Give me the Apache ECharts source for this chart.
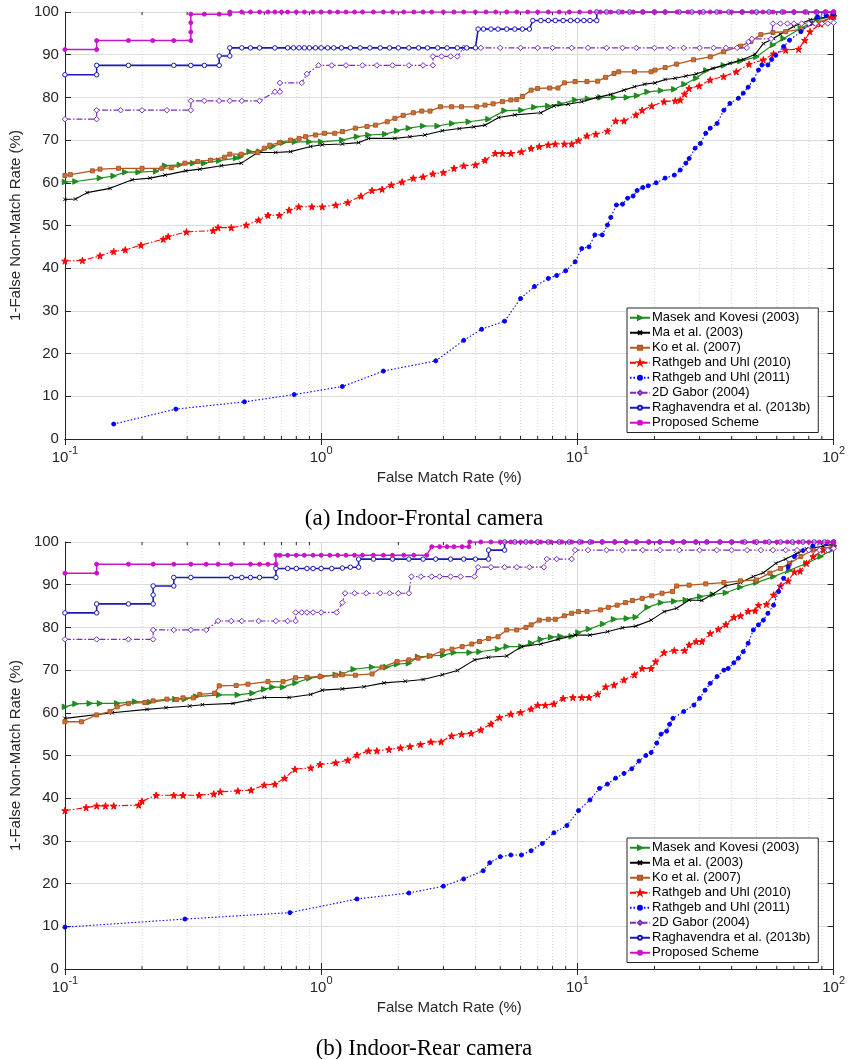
<!DOCTYPE html>
<html>
<head>
<meta charset="utf-8">
<script src="https://cdn.jsdelivr.net/npm/echarts@6/dist/echarts.min.js"></script>
<style>
  html, body { margin: 0; padding: 0; background: #fff; }
  #chart { width: 848px; height: 1059px; }
</style>
</head>
<body>
<div id="chart"></div>
<script>
// legend names, same order in both panels
const names = ['Masek and Kovesi (2003)', 'Ma et al. (2003)', 'Ko et al. (2007)', 'Rathgeb and Uhl (2010)',
  'Rathgeb and Uhl (2011)', '2D Gabor (2004)', 'Raghavendra et al. (2013b)', 'Proposed Scheme'];
const yTicks = [0, 10, 20, 30, 40, 50, 60, 70, 80, 90, 100];
const minorTicks = [0.2, 0.3, 0.4, 0.5, 0.6, 0.7, 0.8, 0.9, 2, 3, 4, 5, 6, 7, 8, 9, 20, 30, 40, 50, 60, 70, 80, 90];

// (a) Indoor-Frontal camera : [FMR %, 1-FNMR %]
const masekA = [[0.1,60.2],[0.11,60.3],[0.137,61.1],[0.155,61.6],[0.172,62.5],[0.194,62.5],[0.227,62.7],[0.246,64.0],[0.281,64.2],[0.317,64.6],[0.35,64.6],[0.40,65.2],[0.466,65.8],[0.485,66.1],[0.526,67.3],[0.575,67.3],[0.646,68.5],[0.71,69.4],[0.79,69.6],[0.90,69.6],[1.0,69.6],[1.21,70.0],[1.38,70.8],[1.53,71.2],[1.78,71.4],[1.98,72.2],[2.2,72.8],[2.5,73.3],[2.85,73.3],[3.25,73.9],[3.77,74.3],[4.5,74.9],[5.2,76.9],[6.05,77.0],[6.8,77.7],[7.7,78.0],[8.6,78.5],[9.8,79.4],[11.0,79.7],[12.3,80.0],[13.9,80.0],[15.6,80.0],[17.1,80.4],[18.8,81.3],[21.2,81.6],[23.9,81.9],[26.2,83.1],[29.1,84.5],[31.9,86.3],[37.3,87.5],[43.3,88.5],[50,89.5],[58,92.3],[63.8,93.8],[74.5,96.2],[86.5,98.2],[100,99.0]];
const maA = [[0.1,56.1],[0.11,56.2],[0.122,57.7],[0.15,58.7],[0.183,60.7],[0.215,61.1],[0.246,61.8],[0.296,62.8],[0.336,63.2],[0.408,64.0],[0.488,64.6],[0.566,67.1],[0.665,67.1],[0.76,67.3],[0.91,68.5],[1.01,68.9],[1.21,69.1],[1.40,69.4],[1.53,70.4],[1.94,70.4],[2.22,70.8],[2.54,71.2],[2.97,72.2],[3.46,72.7],[3.94,73.1],[4.36,73.5],[4.93,75.3],[5.7,75.9],[7.2,76.4],[8.1,78.0],[9.2,78.4],[10.4,79.0],[12.0,80.0],[13.5,80.7],[15.2,81.7],[16.7,82.5],[18.3,83.1],[20.1,83.4],[22.0,84.2],[24.1,84.5],[26.5,85.0],[29.1,85.5],[33.8,86.8],[39.4,88.0],[44.4,88.9],[49.4,90.1],[53.2,92.6],[58.3,93.8],[62,94.8],[69.7,96.6],[81,98.2],[100,99.1]];
const koA = [[0.1,61.7],[0.105,61.9],[0.128,62.8],[0.137,63.2],[0.162,63.4],[0.2,63.4],[0.239,63.4],[0.26,63.5],[0.294,64.6],[0.33,65.0],[0.37,65.3],[0.42,66.0],[0.44,66.7],[0.488,66.7],[0.566,67.1],[0.6,68.1],[0.63,68.8],[0.687,69.4],[0.76,70.0],[0.82,70.4],[0.87,70.8],[0.95,71.2],[1.03,71.6],[1.13,71.6],[1.21,72.0],[1.36,72.8],[1.51,73.2],[1.63,73.5],[1.81,74.3],[1.94,75.1],[2.09,75.8],[2.29,76.4],[2.47,76.8],[2.66,76.8],[2.92,77.8],[3.23,77.8],[3.53,77.8],[4.05,77.8],[4.36,78.2],[4.69,78.5],[5.1,79.0],[5.5,79.4],[5.8,79.5],[6.1,80.2],[6.6,81.7],[7.0,82.1],[7.8,82.2],[8.4,82.2],[8.9,83.4],[9.8,83.7],[10.9,83.7],[12.0,83.8],[12.9,84.7],[13.9,85.6],[14.5,86.0],[16.7,86.0],[19.4,86.0],[20.1,86.4],[22,87.0],[24.4,87.8],[28.4,88.8],[33,89.5],[37.2,90.7],[43.3,92.0],[47.6,93.1],[52,94.7],[58,95.2],[65,95.4],[75,96.0],[85,97.4],[100,98.8]];
const rathgeb10A = [[0.1,41.7],[0.117,41.8],[0.137,42.9],[0.155,43.9],[0.172,44.3],[0.198,45.4],[0.242,46.8],[0.253,47.4],[0.298,48.5],[0.379,48.8],[0.396,49.5],[0.446,49.5],[0.51,50.1],[0.57,51.3],[0.62,52.4],[0.687,52.4],[0.75,53.6],[0.817,54.4],[0.92,54.4],[1.01,54.4],[1.14,54.8],[1.27,55.4],[1.43,56.9],[1.58,58.2],[1.73,58.5],[1.88,59.5],[2.07,60.2],[2.29,61.1],[2.5,61.4],[2.73,62.1],[3.0,62.4],[3.3,63.4],[3.6,64.0],[4.0,64.2],[4.36,65.3],[4.78,66.9],[5.1,66.9],[5.5,66.9],[6.05,67.3],[6.6,68.1],[7.1,68.5],[7.7,68.9],[8.2,69.1],[8.9,69.1],[9.5,69.1],[10.1,69.9],[10.9,71.0],[11.8,71.4],[13.1,72.1],[14.1,74.5],[15.2,74.5],[16.9,75.9],[17.9,77.0],[19.5,78.0],[21.8,79.0],[24.1,79.2],[25.2,79.4],[26.2,80.8],[27.3,82.1],[29.9,82.7],[33,84.1],[37.2,84.9],[41.7,86.0],[46.8,87.8],[53.2,88.8],[58.3,90.2],[65,91.1],[73,91.3],[77.2,93.4],[80.9,95.4],[89,97.2],[97.8,98.9],[100,99.0]];
const rathgeb11A = [[0.155,3.5],[0.271,7.0],[0.502,8.7],[0.785,10.4],[1.21,12.3],[1.75,15.9],[2.8,18.3],[3.6,23.1],[4.23,25.7],[5.2,27.6],[6.0,32.9],[6.8,35.7],[7.7,37.6],[8.3,38.3],[9.0,39.4],[9.8,41.5],[10.4,44.6],[11.1,45.0],[11.7,47.8],[12.5,47.8],[13.1,50.1],[13.5,51.9],[14.2,54.8],[15.0,55.0],[15.7,56.4],[16.5,56.9],[17.1,58.2],[18.0,58.9],[18.9,59.3],[20.3,60.0],[22,61.1],[23.9,61.8],[25.2,63.0],[26.5,64.6],[27.3,65.7],[28.8,68.1],[30.2,69.2],[31.7,71.6],[33,72.8],[35.1,73.9],[37.3,77.0],[39.4,78.6],[42.5,79.8],[44.4,81.0],[46.4,82.4],[48.6,84.1],[50.9,86.4],[52.5,87.6],[55.4,87.6],[57.3,88.9],[59.5,89.9],[63.8,91.9],[67.3,93.4],[74.5,95.4],[81,97.3],[86.5,98.9],[93.5,99.2],[100,99.5]];
const gaborA = [[0.1,74.9],[0.133,74.9],[0.133,77.0],[0.165,77.0],[0.2,77.0],[0.25,77.0],[0.31,77.0],[0.31,79.2],[0.35,79.2],[0.4,79.2],[0.44,79.2],[0.49,79.2],[0.575,79.2],[0.66,81.3],[0.69,81.3],[0.69,83.4],[0.84,83.4],[0.88,85.5],[0.977,87.5],[1.1,87.5],[1.25,87.5],[1.45,87.5],[1.65,87.5],[1.9,87.5],[2.2,87.5],[2.5,87.5],[2.73,87.5],[2.73,89.6],[2.95,89.6],[3.2,89.6],[3.4,89.6],[3.6,91.6],[4.2,91.6],[5,91.6],[6,91.6],[7,91.6],[8,91.6],[9.5,91.6],[11,91.6],[13,91.6],[15,91.6],[17,91.6],[20,91.6],[23,91.6],[26,91.6],[30,91.6],[34,91.6],[38,91.6],[42,91.6],[45.8,91.6],[46.5,93.0],[48,93.7],[57,93.7],[58,97.3],[62,97.3],[66,97.3],[70,97.3],[75,97.3],[80,97.3],[85,97.3],[90,97.3],[95,97.3],[100,97.5]];
const raghA = [[0.1,85.3],[0.133,85.3],[0.133,87.5],[0.177,87.5],[0.266,87.5],[0.31,87.5],[0.35,87.5],[0.4,87.5],[0.4,89.7],[0.44,89.7],[0.44,91.6],[0.49,91.6],[0.53,91.6],[0.575,91.6],[0.66,91.6],[0.74,91.6],[0.78,91.6],[0.82,91.6],[0.86,91.6],[0.9,91.6],[0.95,91.6],[1.0,91.6],[1.06,91.6],[1.12,91.6],[1.2,91.6],[1.3,91.6],[1.42,91.6],[1.55,91.6],[1.7,91.6],[1.85,91.6],[2.0,91.6],[2.2,91.6],[2.4,91.6],[2.6,91.6],[2.85,91.6],[3.1,91.6],[3.4,91.6],[3.7,91.6],[4.0,91.6],[4.1,96.0],[4.3,96.0],[4.6,96.0],[4.9,96.0],[5.3,96.0],[5.7,96.0],[6.1,96.0],[6.5,96.0],[6.7,98.0],[7.2,98.0],[7.7,98.0],[8.2,98.0],[8.8,98.0],[9.4,98.0],[10,98.0],[10.6,98.0],[11.2,98.0],[11.9,98.0],[11.9,100],[13,100],[14.5,100],[16,100],[18,100],[20,100],[22,100],[25,100],[28,100],[31,100],[35,100],[39,100],[44,100],[50,100],[56,100],[63,100],[70,100],[78,100],[86,100],[93,100],[100,100]];
const proposedA = [[0.1,91.2],[0.133,91.2],[0.133,93.3],[0.177,93.3],[0.22,93.3],[0.266,93.3],[0.31,93.3],[0.31,95.3],[0.31,97.5],[0.31,99.5],[0.35,99.5],[0.4,99.5],[0.44,99.5],[0.44,100],[0.49,100],[0.53,100],[0.575,100],[0.62,100],[0.66,100],[0.7,100],[0.74,100],[0.8,100],[0.86,100],[0.93,100],[1.0,100],[1.08,100],[1.16,100],[1.25,100],[1.35,100],[1.45,100],[1.6,100],[1.75,100],[1.9,100],[2.1,100],[2.3,100],[2.5,100],[2.7,100],[3.0,100],[3.3,100],[3.6,100],[4.0,100],[4.4,100],[4.8,100],[5.3,100],[5.8,100],[6.4,100],[7.0,100],[7.7,100],[8.5,100],[9.3,100],[10.2,100],[11.2,100],[12.3,100],[13.5,100],[15,100],[16.5,100],[18,100],[20,100],[22,100],[24.5,100],[27,100],[30,100],[33,100],[36,100],[40,100],[44,100],[48,100],[53,100],[58,100],[64,100],[70,100],[77,100],[85,100],[93,100],[100,100]];

// (b) Indoor-Rear camera
const masekB = [[0.1,61.4],[0.11,62.1],[0.125,62.2],[0.137,62.2],[0.16,62.2],[0.188,62.6],[0.215,62.5],[0.27,63.2],[0.294,63.2],[0.326,63.8],[0.40,64.2],[0.473,64.2],[0.54,64.6],[0.6,65.5],[0.646,66.0],[0.71,66.0],[0.795,67.0],[0.90,68.1],[1.01,68.5],[1.14,68.9],[1.21,69.1],[1.34,70.2],[1.58,70.7],[1.8,70.7],[1.98,71.4],[2.2,71.6],[2.39,73.1],[2.66,73.3],[3.0,73.5],[3.3,74.1],[3.8,74.1],[4.15,74.3],[4.9,74.9],[5.3,75.5],[6.05,75.5],[6.6,76.3],[7.2,77.2],[7.9,77.7],[8.6,77.9],[9.5,77.9],[10.1,78.8],[11.1,79.6],[12.6,80.8],[13.9,81.9],[15.6,82.1],[16.9,82.4],[18.8,84.7],[21.2,85.8],[23.9,86.1],[26.5,86.4],[30.2,87.2],[33.8,87.7],[38,88.1],[43.3,89.4],[50,90.5],[58.3,91.9],[67.3,93.4],[78.4,95.0],[89,96.6],[98,98.1],[100,99.0]];
const maB = [[0.1,58.7],[0.153,60.0],[0.209,60.8],[0.248,61.2],[0.307,61.6],[0.344,61.9],[0.453,62.2],[0.526,63.0],[0.6,63.6],[0.75,63.6],[0.91,64.3],[1.01,65.3],[1.21,65.6],[1.47,66.1],[1.76,67.0],[2.13,67.4],[2.5,67.8],[2.97,68.9],[3.4,69.9],[3.97,72.4],[4.5,73.0],[5.3,73.3],[6.05,75.5],[7.2,76.1],[8.4,77.2],[9.8,78.2],[11.2,78.2],[13.1,79.0],[15,79.9],[16.9,80.3],[19.4,81.7],[21.8,83.7],[24.4,84.5],[27.3,86.4],[30.6,86.3],[33.8,87.8],[37.8,89.7],[43.3,90.5],[48.6,91.9],[53.2,92.8],[59.5,95.0],[65,96.0],[71.3,97.2],[78.4,98.4],[91,99.0],[100,99.5]];
const koB = [[0.1,57.9],[0.116,57.9],[0.133,59.5],[0.15,60.3],[0.16,61.4],[0.177,62.2],[0.205,62.4],[0.221,62.8],[0.25,63.2],[0.273,63.1],[0.289,63.5],[0.317,63.5],[0.336,64.3],[0.384,64.6],[0.40,66.3],[0.466,66.4],[0.518,66.7],[0.62,67.3],[0.71,67.3],[0.795,68.2],[0.88,68.3],[0.99,68.5],[1.14,68.8],[1.21,68.9],[1.36,68.8],[1.58,69.1],[1.73,70.7],[1.98,72.0],[2.2,72.4],[2.39,72.8],[2.66,73.3],[2.97,74.5],[3.24,74.9],[3.55,75.5],[3.87,76.1],[4.15,76.7],[4.5,77.4],[4.9,77.8],[5.3,79.4],[5.8,79.4],[6.3,80.0],[6.6,80.6],[7.1,81.7],[7.7,81.9],[8.2,81.9],[8.9,82.7],[9.5,83.3],[10.1,83.7],[10.9,83.7],[12.3,84.1],[13.2,84.7],[14.3,85.2],[15.4,85.8],[16.4,86.3],[17.9,86.8],[19.5,87.4],[21.4,88.0],[23.5,88.4],[24.4,89.7],[27.3,89.9],[31.7,90.2],[37.3,90.5],[43.3,90.9],[50,91.1],[56.4,92.7],[62,93.8],[67.3,95.0],[74.5,96.6],[83.2,98.1],[100,99.0]];
const rathgeb10B = [[0.1,37.1],[0.121,37.8],[0.133,38.2],[0.144,38.2],[0.155,38.2],[0.194,38.4],[0.2,39.3],[0.227,40.7],[0.266,40.7],[0.289,40.7],[0.334,40.7],[0.381,41.0],[0.404,41.5],[0.473,41.7],[0.533,41.9],[0.6,43.1],[0.66,43.3],[0.72,44.7],[0.79,46.8],[0.91,47.1],[0.99,47.9],[1.14,48.3],[1.27,48.9],[1.38,50.1],[1.53,51.1],[1.65,51.1],[1.84,51.4],[2.04,51.8],[2.22,52.1],[2.44,52.6],[2.68,53.2],[2.94,53.2],[3.23,54.6],[3.53,55.0],[3.85,55.2],[4.2,56.0],[4.6,57.4],[4.97,58.9],[5.5,59.7],[6.0,60.1],[6.6,60.9],[7.0,61.8],[7.5,61.8],[8.1,62.1],[8.8,63.4],[9.6,63.6],[10.4,63.6],[11.1,63.6],[12,64.4],[12.9,66.1],[13.9,66.5],[15.2,67.7],[16.7,68.9],[17.9,70.4],[19.4,70.4],[20.2,72.0],[21.8,74.1],[23.9,74.6],[26.2,74.6],[27.3,75.9],[29.1,76.7],[30.6,76.7],[33.0,78.6],[35.5,79.6],[38.0,80.7],[40.8,82.4],[43.3,82.7],[46.4,83.8],[49.4,83.9],[50.9,85.2],[54.7,85.4],[58.3,87.6],[62,89.7],[66.5,90.9],[70.3,93.0],[74,93.2],[78.4,95.0],[83.2,96.6],[91,98.1],[100,99.0]];
const rathgeb11B = [[0.1,9.8],[0.294,11.7],[0.755,13.2],[1.38,16.4],[2.2,17.8],[3.0,19.4],[3.6,21.1],[4.29,23.0],[4.55,24.9],[5.0,26.3],[5.5,26.7],[6.05,26.7],[6.6,27.7],[7.3,29.4],[8.1,31.9],[9.1,33.6],[10.1,37.1],[11.2,39.6],[12.2,42.3],[13.1,43.3],[14.1,44.7],[15.2,45.8],[16.3,46.9],[17.4,48.7],[18.5,50.0],[19.4,50.7],[20.4,52.9],[21.2,55.0],[22.3,55.7],[22.9,57.3],[23.6,58.7],[26,60.3],[28.5,61.8],[30,63.4],[31.5,65.3],[33,66.9],[35.1,68.5],[37.3,70.0],[38.8,70.4],[40.8,71.7],[42.5,72.8],[44.4,74.3],[46.4,76.3],[48.6,79.4],[50.9,80.6],[53.2,81.7],[55.4,83.3],[58.3,85.2],[61,88.4],[63.8,91.5],[66.5,94.2],[70.3,96.6],[76,98.0],[83,99.1],[93.5,99.7],[100,100]];
const gaborB = [[0.1,77.2],[0.133,77.2],[0.177,77.2],[0.221,77.2],[0.221,79.4],[0.266,79.4],[0.31,79.4],[0.356,79.4],[0.396,81.5],[0.446,81.5],[0.49,81.5],[0.57,81.5],[0.666,81.5],[0.74,81.5],[0.795,81.5],[0.795,83.5],[0.84,83.5],[0.88,83.5],[0.93,83.5],[1.0,83.5],[1.15,83.5],[1.21,85.8],[1.24,88.0],[1.35,88.0],[1.5,88.0],[1.7,88.0],[1.85,88.0],[2.0,88.0],[2.2,88.0],[2.25,91.9],[2.45,91.9],[2.7,91.9],[2.9,91.9],[3.2,91.9],[3.5,91.9],[3.97,91.9],[4.1,94.1],[4.6,94.1],[5.2,94.1],[5.8,94.1],[6.5,94.1],[7.4,94.1],[7.6,96.0],[8.3,96.0],[9.5,96.0],[9.8,98.1],[11,98.1],[13,98.1],[15,98.1],[18,98.1],[21,98.1],[25,98.1],[30,98.1],[35,98.1],[40,98.1],[46,98.1],[52,98.1],[58,98.1],[65,98.1],[72,98.1],[80,98.1],[88,98.1],[95,98.1],[100,98.5]];
const raghB = [[0.1,83.4],[0.133,83.4],[0.133,85.5],[0.177,85.5],[0.221,85.5],[0.221,87.6],[0.221,89.7],[0.266,89.7],[0.266,91.7],[0.31,91.7],[0.446,91.7],[0.49,91.7],[0.53,91.7],[0.575,91.7],[0.666,91.7],[0.666,93.8],[0.74,93.8],[0.8,93.8],[0.88,93.8],[0.93,93.8],[1.0,93.8],[1.1,93.8],[1.21,93.9],[1.3,94.1],[1.4,94.1],[1.4,96.0],[1.6,96.0],[1.9,96.0],[2.2,96.0],[2.5,96.0],[2.8,96.0],[3.2,96.0],[3.6,96.0],[4.0,96.0],[4.5,96.0],[4.5,98.1],[5.2,98.1],[5.2,100],[5.7,100],[6.3,100],[7,100],[7.7,100],[8.5,100],[9.3,100],[10.2,100],[11.2,100],[12.5,100],[14,100],[15.5,100],[17,100],[19,100],[21,100],[23.5,100],[26,100],[29,100],[32,100],[36,100],[40,100],[45,100],[50,100],[56,100],[62,100],[69,100],[76,100],[84,100],[92,100],[100,100]];
const proposedB = [[0.1,92.7],[0.133,92.7],[0.133,94.8],[0.177,94.8],[0.221,94.8],[0.266,94.8],[0.31,94.8],[0.356,94.8],[0.396,94.8],[0.446,94.8],[0.53,94.8],[0.575,94.8],[0.62,94.8],[0.666,94.8],[0.666,96.9],[0.69,96.9],[0.74,96.9],[0.8,96.9],[0.86,96.9],[0.93,96.9],[1.0,96.9],[1.08,96.9],[1.16,96.9],[1.25,96.9],[1.35,96.9],[1.45,96.9],[1.6,96.9],[1.75,96.9],[1.9,96.9],[2.1,96.9],[2.3,96.9],[2.58,96.9],[2.7,98.9],[2.9,98.9],[3.1,98.9],[3.3,98.9],[3.55,98.9],[3.77,98.9],[3.8,100],[4.2,100],[4.6,100],[5.0,100],[5.5,100],[6.0,100],[6.6,100],[7.2,100],[7.9,100],[8.7,100],[9.5,100],[10.4,100],[11.4,100],[12.5,100],[14,100],[15.5,100],[17,100],[19,100],[21,100],[23.5,100],[26,100],[29,100],[32,100],[36,100],[40,100],[44,100],[49,100],[54,100],[60,100],[66,100],[73,100],[80,100],[88,100],[95,100],[100,100]];

const seriesA = [masekA, maA, koA, rathgeb10A, rathgeb11A, gaborA, raghA, proposedA];
const seriesB = [masekB, maB, koB, rathgeb10B, rathgeb11B, gaborB, raghB, proposedB];

const FONT = 'Liberation Sans';
const INK = '#262626';
const starPath = 'path://M50,0L61,35L98,35L68,57L79,91L50,70L21,91L32,57L2,35L39,35Z';
const crossPath = 'path://M0,0L10,10M10,0L0,10';

// per-method look (matlab-ish)
const styles = [
  {color: '#1e8c1e', symbol: 'triangle', rotate: -90, size: 5.5, fill: '#1e8c1e', type: 'solid', width: 1.2},
  {color: '#000000', symbol: crossPath, rotate: 0, size: 3.5, fill: '#000000', type: 'solid', width: 1.1},
  {color: '#b3561f', symbol: 'rect', rotate: 0, size: 4, fill: '#c8733c', type: 'solid', width: 1.3},
  {color: '#ff0000', symbol: starPath, rotate: 0, size: 6.5, fill: '#ff0000', type: [6, 2, 1.5, 2], width: 1.1},
  {color: '#0000ff', symbol: 'circle', rotate: 0, size: 4, fill: '#0000ff', type: [1.5, 2], width: 1.1},
  {color: '#7a2cbf', symbol: 'diamond', rotate: 0, size: 5.5, fill: '#ffffff', type: [6, 2, 1.5, 2], width: 1.2},
  {color: '#1a1ab8', symbol: 'circle', rotate: 0, size: 4.5, fill: '#ffffff', type: 'solid', width: 1.6},
  {color: '#cc11cc', symbol: 'circle', rotate: 0, size: 4, fill: '#cc11cc', type: 'solid', width: 1.5}
];

function makeSeries(list, xi, yi) {
  return list.map(function (d, i) {
    const s = styles[i];
    return {
      name: names[i],
      type: 'line',
      xAxisIndex: xi,
      yAxisIndex: yi,
      data: d,
      color: s.color,
      symbol: s.symbol,
      symbolSize: s.size,
      symbolRotate: s.rotate,
      showAllSymbol: true,
      lineStyle: {color: s.color, width: s.width, type: s.type},
      itemStyle: {color: s.fill, borderColor: s.color, borderWidth: 1},
      emphasis: {disabled: true},
      z: 3 + i
    };
  });
}

// dotted minor grid + minor ticks (log decades)
function minorItem(params, api) {
  const cs = params.coordSys;
  const x = api.coord([api.value(0), 50])[0];
  const b = cs.y + cs.height;
  return {
    type: 'group',
    children: [
      {type: 'line', shape: {x1: x, y1: cs.y, x2: x, y2: b}, style: {stroke: '#d6d6d6', lineWidth: 1, lineDash: [1, 2]}},
      {type: 'line', shape: {x1: x, y1: b, x2: x, y2: b - 3}, style: {stroke: INK, lineWidth: 1}},
      {type: 'line', shape: {x1: x, y1: cs.y, x2: x, y2: cs.y + 3}, style: {stroke: INK, lineWidth: 1}}
    ]
  };
}

function xAxisPair(gi) {
  const base = {
    type: 'log', logBase: 10, min: 0.1, max: 100, gridIndex: gi,
    axisLine: {show: true, lineStyle: {color: INK, width: 1}},
    axisTick: {show: true, inside: true, length: 6, lineStyle: {color: INK}},
    minorTick: {show: false}
  };
  return [
    Object.assign({}, base, {
      position: 'bottom',
      name: 'False Match Rate (%)', nameLocation: 'middle', nameGap: 31,
      nameTextStyle: {fontFamily: FONT, fontSize: 15, color: INK},
      splitLine: {show: true, lineStyle: {color: '#dcdcdc', width: 1.2}},
      axisLabel: {
        margin: 6,
        formatter: function (v) {
          return '{b|10}{s|' + Math.round(Math.log10(v)) + '}';
        },
        rich: {
          b: {fontFamily: FONT, fontSize: 15, color: INK, lineHeight: 20, verticalAlign: 'bottom'},
          s: {fontFamily: FONT, fontSize: 11, color: INK, lineHeight: 20, verticalAlign: 'top'}
        }
      }
    }),
    Object.assign({}, base, {position: 'top', axisLabel: {show: false}, splitLine: {show: false}})
  ];
}

function yAxisPair(gi) {
  const base = {
    type: 'value', min: 0, max: 100, interval: 10, gridIndex: gi,
    axisLine: {show: true, lineStyle: {color: INK, width: 1}},
    axisTick: {show: true, inside: true, length: 6, lineStyle: {color: INK}}
  };
  return [
    Object.assign({}, base, {
      position: 'left',
      name: '1-False Non-Match Rate (%)', nameLocation: 'middle', nameGap: 33, nameRotate: 90,
      nameTextStyle: {fontFamily: FONT, fontSize: 15, color: INK},
      splitLine: {show: true, lineStyle: {color: '#dcdcdc', width: 1.2}},
      axisLabel: {
        margin: 6, fontFamily: FONT, fontSize: 15, color: INK,
        formatter: function (v) { return yTicks.indexOf(v) >= 0 ? String(v) : ''; }
      }
    }),
    Object.assign({}, base, {position: 'right', axisLabel: {show: false}, splitLine: {show: false}})
  ];
}

function legendAt(top) {
  return {
    data: names,
    orient: 'vertical',
    left: 627, top: top,
    padding: [3, 8, 3, 2],
    itemGap: 1.5,
    itemWidth: 20,
    itemHeight: 5,
    backgroundColor: '#ffffff',
    borderColor: INK,
    borderWidth: 1,
    borderRadius: 0,
    selectedMode: false,
    textStyle: {fontFamily: FONT, fontSize: 13, color: '#000', lineHeight: 13.5, padding: [0, 0, 0, -3]}
  };
}

const minorData = minorTicks.map(function (v) { return [v, 50]; });

let myChart = echarts.init(document.getElementById('chart'), null, {renderer: 'canvas'});
let option = {
  animation: false,
  backgroundColor: '#ffffff',
  title: [
    {text: '(a) Indoor-Frontal camera', left: 'center', top: 502,
      textStyle: {fontFamily: 'Liberation Serif', fontSize: 23, fontWeight: 'normal', color: '#000'}},
    {text: '(b) Indoor-Rear camera', left: 'center', top: 1032,
      textStyle: {fontFamily: 'Liberation Serif', fontSize: 23, fontWeight: 'normal', color: '#000'}}
  ],
  grid: [
    {left: 61, width: 773, top: 12, height: 427},
    {left: 61, width: 773, top: 542, height: 427}
  ],
  xAxis: xAxisPair(0).concat(xAxisPair(1)),
  yAxis: yAxisPair(0).concat(yAxisPair(1)),
  legend: [legendAt(308), legendAt(838)],
  series: [
    {type: 'custom', xAxisIndex: 0, yAxisIndex: 0, data: minorData, renderItem: minorItem, silent: true, z: 1, clip: false},
    {type: 'custom', xAxisIndex: 2, yAxisIndex: 2, data: minorData, renderItem: minorItem, silent: true, z: 1, clip: false}
  ].concat(makeSeries(seriesA, 0, 0), makeSeries(seriesB, 2, 2))
};
myChart.setOption(option);
</script>
</body>
</html>
